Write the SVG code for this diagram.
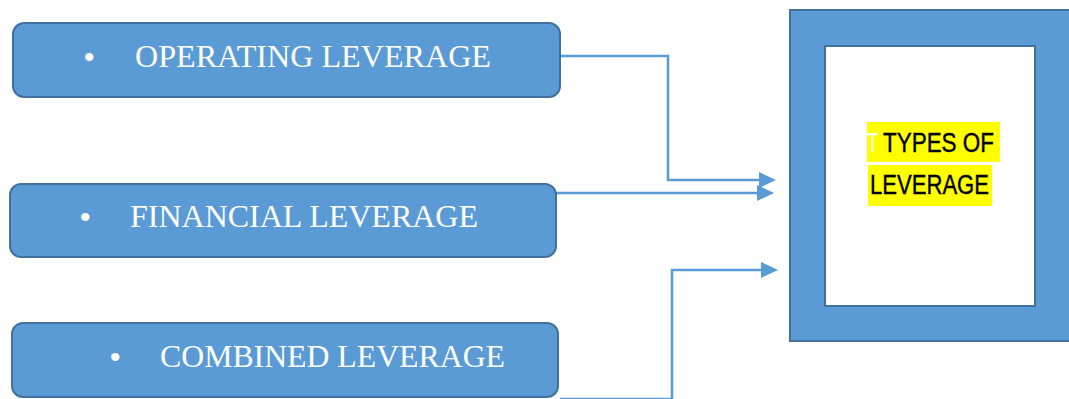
<svg xmlns="http://www.w3.org/2000/svg" width="1069" height="399" viewBox="0 0 1069 399">
<style>
.box{fill:#5B9BD5;stroke:#41719C;stroke-width:2}
.lbl{font-family:"Liberation Serif","Times New Roman",serif;font-size:31px;fill:#fff}
.bul{font-family:"Liberation Sans",Arial,sans-serif;font-size:30px;fill:#fff}
.con{fill:none;stroke:#5B9BD5;stroke-width:2.5}
.title{font-family:"Liberation Sans",Arial,sans-serif;font-size:27px;fill:#000;stroke:#000;stroke-width:0.4}
</style>
<rect width="1069" height="399" fill="#fff"/>
<g id="connectors">
<path class="con" d="M560,56 H668 V180 H760"/>
<path d="M759,172 L776,180 L759,188 z" fill="#5B9BD5"/>
<path class="con" d="M556,193 H758"/>
<path d="M757,185 L774,193 L757,201 z" fill="#5B9BD5"/>
<path class="con" d="M560,399 H672 V270 H762"/>
<path d="M761,262 L778,270 L761,278 z" fill="#5B9BD5"/>
</g>
<g id="operating">
<rect class="box" x="13" y="23" width="547" height="74" rx="11"/>
<text class="bul" x="84" y="67">•</text>
<text class="lbl" x="135" y="67" textLength="356" lengthAdjust="spacingAndGlyphs">OPERATING LEVERAGE</text>
</g>
<g id="financial">
<rect class="box" x="10" y="184" width="546" height="73" rx="11"/>
<text class="bul" x="80" y="227">•</text>
<text class="lbl" x="130" y="227" textLength="348" lengthAdjust="spacingAndGlyphs">FINANCIAL LEVERAGE</text>
</g>
<g id="combined">
<rect class="box" x="12" y="323" width="546" height="74" rx="11"/>
<text class="bul" x="110" y="367">•</text>
<text class="lbl" x="160" y="367" textLength="345" lengthAdjust="spacingAndGlyphs">COMBINED LEVERAGE</text>
</g>
<g id="types">
<rect x="790" y="10" width="290" height="331" fill="#5B9BD5" stroke="#41719C" stroke-width="2"/>
<rect x="825" y="46" width="210" height="260" fill="#fff" stroke="#41719C" stroke-width="2"/>
<rect x="867" y="122" width="133" height="40" fill="#FFFF00"/>
<rect x="868" y="165" width="124" height="41" fill="#FFFF00"/>
<text x="867" y="152" font-family="Liberation Sans, Arial, sans-serif" font-size="27" fill="#fff" textLength="11" lengthAdjust="spacingAndGlyphs">T</text>
<text class="title" x="883" y="152" textLength="111" lengthAdjust="spacingAndGlyphs">TYPES OF</text>
<text class="title" x="870" y="194" textLength="119" lengthAdjust="spacingAndGlyphs">LEVERAGE</text>
</g>
</svg>
